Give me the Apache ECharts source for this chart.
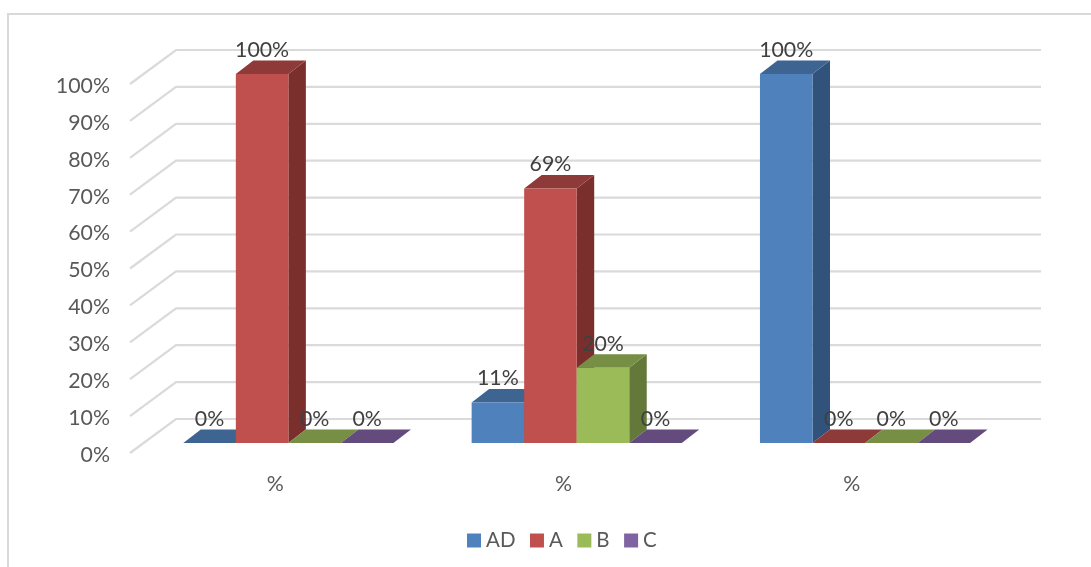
<!DOCTYPE html>
<html><head><meta charset="utf-8">
<style>html,body{margin:0;padding:0;background:#fff}#c{width:1091px;height:567px}</style>
<script src="https://cdn.jsdelivr.net/npm/echarts@6/dist/echarts.min.js"></script>
</head><body><div id="c"></div>
<script>
const categories = ['%', '%', '%'];
const seriesNames = ['AD', 'A', 'B', 'C'];
const AD = [0, 0.11, 1];
const A = [1, 0.69, 0];
const B = [0, 0.204, 0];
const C = [0, 0, 0];
const gridTicks = [0, 0.1, 0.2, 0.3, 0.4, 0.5, 0.6, 0.7, 0.8, 0.9, 1];
const frontColors = ['#4F81BD', '#C0504D', '#9BBB59', '#8064A2'];
const topColors = ['#3E6591', '#8E3A38', '#778E45', '#634C7D'];
const sideColors = ['#31527A', '#7B2F2D', '#64783A', '#523F69'];
const allValues = [AD, A, B, C];

const FONT = 'Lato, "Noto Sans", sans-serif';
const WALL_DX = 46, WALL_DY = 34;       // back wall offset from the front plane
const BAR_DX = 14.2, BAR_DY = 10;       // bar front face offset from the front plane
const DEPTH_DX = 17.5, DEPTH_DY = 13.4; // bar depth
const BAR_FRAC = 0.1822;

function wallItem(params, api) {
  const cs = params.coordSys;
  const v = api.value(0);
  const y = api.coord([0, v])[1];
  const x0 = cs.x, x1 = cs.x + cs.width;
  return { type: 'group', children: [
    { type: 'polyline', shape: { points: [[x0, y], [x0 + WALL_DX, y - WALL_DY], [x1 + WALL_DX, y - WALL_DY]] },
      style: { stroke: '#DADADA', lineWidth: 2.2, fill: null } }
  ]};
}
function barItem(s) {
  return function (params, api) {
    const i = api.value(0), v = api.value(1);
    const band = api.size([1, 0])[0];
    const w = band * BAR_FRAC;
    const c = api.coord([i, v]);
    const b = api.coord([i, 0]);
    const left = c[0] - 2 * w + s * w + BAR_DX;
    const right = left + w;
    const top = c[1] - BAR_DY, bottom = b[1] - BAR_DY;
    const dx = DEPTH_DX, dy = DEPTH_DY;
    const kids = [];
    if (v > 0) {
      kids.push({ type: 'polygon', shape: { points: [[right, top], [right + dx, top - dy], [right + dx, bottom - dy], [right, bottom]] },
        style: { fill: sideColors[s] } });
    }
    kids.push({ type: 'polygon', shape: { points: [[left, top], [left + dx, top - dy], [right + dx, top - dy], [right, top]] },
      style: { fill: topColors[s] } });
    if (v > 0) {
      kids.push({ type: 'rect', shape: { x: left, y: top, width: w, height: bottom - top },
        style: { fill: frontColors[s] } });
    }
    kids.push({ type: 'text', z2: 100, style: { text: Math.round(v * 100) + '%', x: left + w / 2, y: top - 24,
      align: 'center', verticalAlign: 'middle', font: '21.3px ' + FONT, fill: '#404040' } });
    return { type: 'group', children: kids };
  };
}
const barSeries = seriesNames.map((name, s) => ({
  name, type: 'custom', z: 5 + s,
  itemStyle: { color: frontColors[s] },
  encode: { x: 0, y: 1 },
  data: allValues[s].map((v, i) => [i, v]),
  renderItem: barItem(s)
}));
const chart = echarts.init(document.getElementById('c'), null, { renderer: 'canvas' });
chart.setOption({
  animation: false,
  backgroundColor: '#fff',
  textStyle: { fontFamily: FONT },
  graphic: [
    { type: 'polyline', silent: true, z: 0, shape: { points: [[8, 567], [8, 14], [1091, 14]] },
      style: { stroke: '#D9D9D9', lineWidth: 2, fill: null } }
  ],
  legend: {
    left: 467, top: 530, padding: 0, itemWidth: 14, itemHeight: 14, itemGap: 14.5, icon: 'rect',
    data: seriesNames, textStyle: { fontFamily: FONT, fontSize: 20.5, color: '#595959' }
  },
  grid: { left: 130, right: 96, top: 84, bottom: 114 },
  xAxis: { type: 'category', data: categories, axisLine: { show: false }, axisTick: { show: false },
    axisLabel: { fontFamily: FONT, fontSize: 21.3, color: '#595959', margin: 21, padding: [0, 0, 0, 2] } },
  yAxis: { type: 'value', min: 0, max: 1, interval: 0.1, splitLine: { show: false },
    axisLine: { show: false }, axisTick: { show: false },
    axisLabel: { fontFamily: FONT, fontSize: 21.3, color: '#595959', margin: 20, verticalAlign: 'top', lineHeight: 4, formatter: v => Math.round(v * 100) + '%' } },
  series: [
    { type: 'custom', name: 'wall', z: 1, silent: true, encode: { y: 0 }, data: gridTicks.map(t => [t]), renderItem: wallItem }
  ].concat(barSeries)
});
</script></body></html>
